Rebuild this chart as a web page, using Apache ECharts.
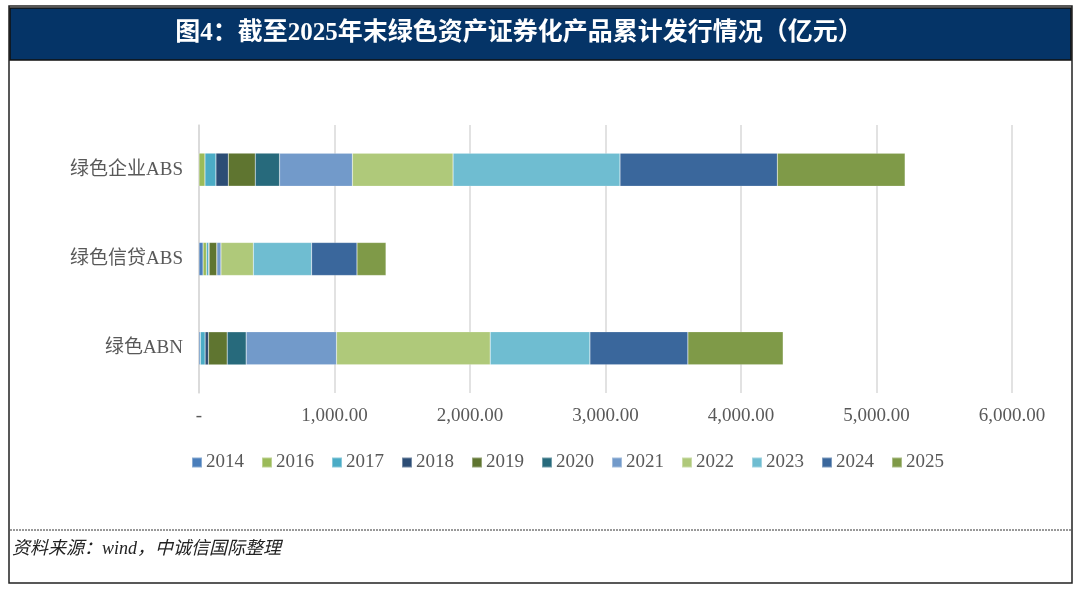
<!DOCTYPE html>
<html><head><meta charset="utf-8">
<script src="https://cdn.jsdelivr.net/npm/echarts@6/dist/echarts.min.js"></script>
<style>html,body{margin:0;padding:0;background:#fff}#c{width:1080px;height:591px}</style>
</head><body><div id="c"></div>
<script>
const categories = ['绿色ABN', '绿色信贷ABS', '绿色企业ABS'];
const years = ['2014','2016','2017','2018','2019','2020','2021','2022','2023','2024','2025'];
// values per year, in category order [绿色ABN, 绿色信贷ABS, 绿色企业ABS]
const v2014 = [10, 30, 0];
const v2016 = [0, 25, 44];
const v2017 = [35, 15, 81];
const v2018 = [25, 5, 91];
const v2019 = [138, 57, 199];
const v2020 = [140, 0, 180];
const v2021 = [667, 30, 537];
const v2022 = [1134, 239, 743];
const v2023 = [736, 430, 1232];
const v2024 = [723, 335, 1161];
const v2025 = [703, 214, 943];
const xTicks = ['-', '1,000.00', '2,000.00', '3,000.00', '4,000.00', '5,000.00', '6,000.00'];
const colors = ['#4A7EBB','#9BBB59','#4BACC6','#2C4D75','#5F7530','#276A7C','#729ACA','#AFC97A','#6FBDD1','#3A679C','#7F9A48'];
const seriesData = [v2014,v2016,v2017,v2018,v2019,v2020,v2021,v2022,v2023,v2024,v2025];

const chart = echarts.init(document.getElementById('c'));
const serifFont = '"Liberation Serif","Noto Sans CJK SC",serif';
chart.setOption({
  animation: false,
  color: colors,
  graphic: [
    {type:'rect', shape:{x:9,y:6,width:1063,height:577}, style:{fill:'none', stroke:'#222', lineWidth:1.5}, z:0},
    {type:'rect', shape:{x:10,y:8,width:1061,height:52}, style:{fill:'#053467', stroke:'#111', lineWidth:1.5}, z:1},
    {type:'text', x: 519, y: 34, style:{text:'图4：截至2025年末绿色资产证券化产品累计发行情况（亿元）', fill:'#fff', align:'center', verticalAlign:'middle', font:'bold 25px "Liberation Serif","Noto Sans CJK SC",serif'}, z:2},
    {type:'line', shape:{x1:10,y1:530,x2:1071,y2:530}, style:{stroke:'#333', lineWidth:1, lineDash:[2,1]}, z:1},
    {type:'text', x: 12, y: 549, style:{text:'资料来源：wind，中诚信国际整理', fill:'#222', verticalAlign:'middle', font:'italic 18px "Liberation Serif","Noto Sans CJK SC",serif'}, z:2}
  ],
  legend: {
    left: 186, top: 448,
    itemWidth: 10, itemHeight: 10, itemGap: 17,
    icon: 'rect',
    textStyle: {color:'#595959', fontSize: 19, fontFamily: serifFont, padding:[0,0,0,-1]},
    data: years
  },
  grid: {left: 199, right: 68, top: 125, bottom: 198, containLabel: false},
  xAxis: {
    type: 'value', min: 0, max: 6000, interval: 1000,
    axisLine: {show:false}, axisTick: {show:false},
    splitLine: {lineStyle:{color:'#D9D9D9', width:1.5}},
    axisLabel: {color:'#595959', fontSize: 19, fontFamily: serifFont, margin: 14,
      formatter: function(v){ return xTicks[Math.round(v/1000)]; }}
  },
  yAxis: {
    type: 'category', data: categories,
    axisLine: {show:true, lineStyle:{color:'#D9D9D9', width:1.5}},
    axisTick: {show:false},
    axisLabel: {color:'#595959', fontSize: 19, fontFamily: serifFont, margin: 16}
  },
  series: seriesData.map((d,i)=>({
    name: years[i], type: 'bar', stack: 'total', data: d,
    barWidth: '37%',
    itemStyle: {borderColor: 'rgba(255,255,255,0.35)', borderWidth: 0.5}
  }))
});
</script></body></html>
